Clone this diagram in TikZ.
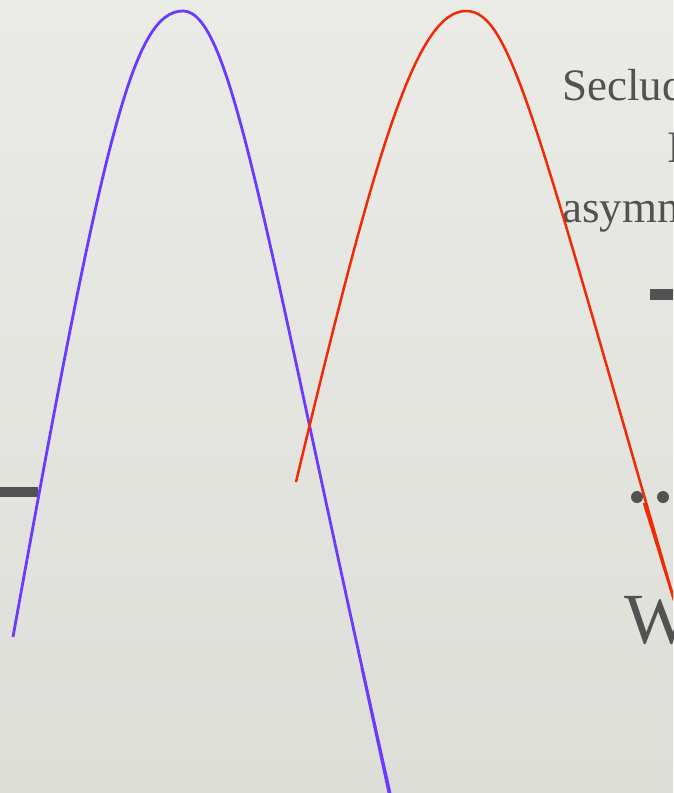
\documentclass[tikz,border=0pt]{standalone}
\usepackage{fontspec}
\setmainfont{Liberation Serif}
\definecolor{bgtop}{HTML}{EAEAE6}
\definecolor{bgbot}{HTML}{DEDED9}
\definecolor{txtgray}{HTML}{525252}
\definecolor{bluecurve}{HTML}{6A3BFF}
\definecolor{redcurve}{HTML}{F02A05}
\tikzset{
  bluestroke/.style={draw=bluecurve, line width=2.8pt},
  redstroke/.style={draw=redcurve, line width=2.5pt},
  bartext/.style={fill=txtgray, draw=none},
  slidetext/.style={text=txtgray, inner sep=0pt, anchor=base west},
}
\begin{document}
\begin{tikzpicture}[x=1pt, y=-1pt]
\useasboundingbox (0,0) rectangle (673,793);
\shade[top color=bgtop, bottom color=bgbot] (0,0) rectangle (673,793);
\begin{scope}
\clip (0,0) rectangle (673,793);
% text on the right
\node[slidetext, font=\fontsize{45}{45}\selectfont] (t1) at (562,100) {Secluded};
\node[slidetext, font=\fontsize{45}{45}\selectfont] (t2) at (667,162) {I};
\node[slidetext, font=\fontsize{45}{45}\selectfont] (t3) at (562,222) {asymmetric};
\node[slidetext, font=\fontsize{72}{72}\selectfont] (t4) at (624,643) {W};
% bars
\path[bartext] (650,289) rectangle (680,300);
\path[bartext] (-5,487) rectangle (38,497);
% dots
\fill[txtgray] (637,497) circle (6);
\fill[txtgray] (663,497) circle (6);
\fill[txtgray] (689,497) circle (6);
% blue curve
\coordinate (bl) at (13,637);
\coordinate (bp) at (183,11);
\coordinate (br) at (390,793);
\draw[bluestroke] (bl) .. controls (103,137) and (133,11) .. (bp)
                       .. controls (233,11) and (266,243) .. (br);
\coordinate (bs) at (362,668);
\coordinate (be) at (389,793);
\draw[bluestroke] (bs) -- (be);
% red curve
\coordinate (rl) at (296,482);
\coordinate (rp) at (466,11);
\coordinate (rr) at (680,620);
\draw[redstroke] (rl) .. controls (375,152) and (416,11) .. (rp)
                      .. controls (511,11) and (535,120) .. (rr);
\coordinate (rs) at (644,503);
\coordinate (re) at (674,600);
\draw[redstroke] (rs) -- (re);
\end{scope}
\end{tikzpicture}
\end{document}
